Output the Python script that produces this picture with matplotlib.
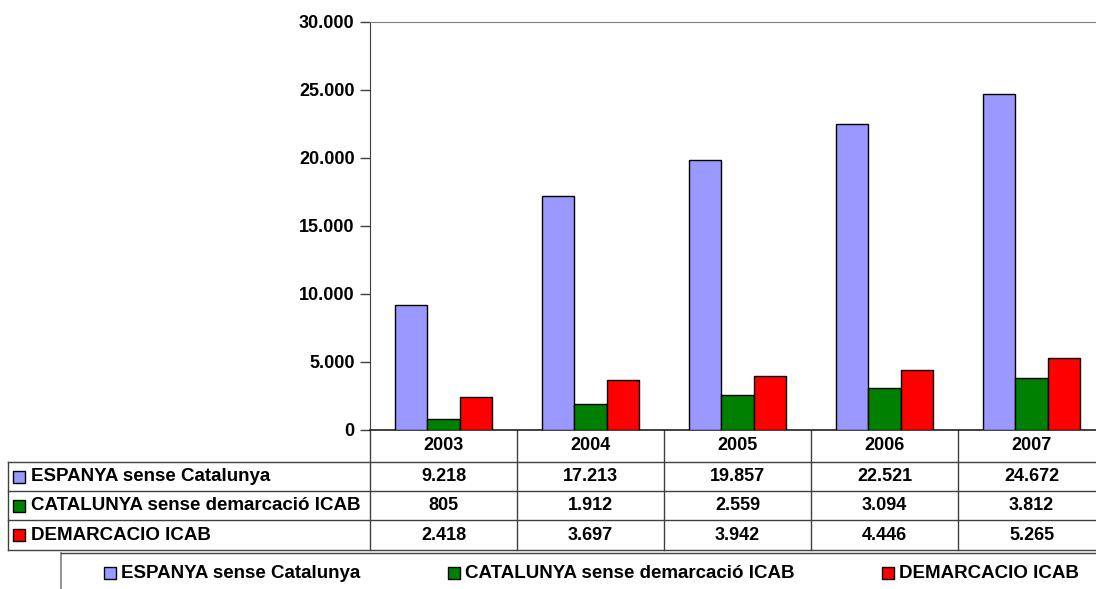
import matplotlib.pyplot as plt
from matplotlib.patches import Rectangle
from matplotlib.transforms import blended_transform_factory
from matplotlib.ticker import FuncFormatter

plt.rcParams['font.family'] = ['Liberation Sans', 'DejaVu Sans']
plt.rcParams['font.size'] = 13
plt.rcParams['font.weight'] = 'bold'

years = ['2003', '2004', '2005', '2006', '2007']
series_names = ['ESPANYA sense Catalunya',
                'CATALUNYA sense demarcació ICAB',
                'DEMARCACIO ICAB']
espanya = [9218, 17213, 19857, 22521, 24672]
catalunya = [805, 1912, 2559, 3094, 3812]
icab = [2418, 3697, 3942, 4446, 5265]
colors = ['#9999FF', '#008000', '#FF0000']
values = [espanya, catalunya, icab]


def fmt(v, pos=None):
    return '{:,.0f}'.format(v).replace(',', '.')


W, H = 1096, 589
fs = 13
fs_lab = 13.5
fig = plt.figure(figsize=(W / 100, H / 100), dpi=100)

# plot area in pixel terms: left 370, zero line at y=430, top at y=22
ax = fig.add_axes([370 / W, (H - 430) / H, 735 / W, 408 / H])
n = len(years)
bw = 0.222
for k, (vals, c) in enumerate(zip(values, colors)):
    xs = [i + (k - 1) * bw for i in range(n)]
    ax.bar(xs, vals, width=bw, color=c, edgecolor='black', linewidth=1, zorder=3)

ax.set_xlim(-0.5, n - 0.5)
ax.set_ylim(0, 30000)
ax.set_yticks(range(0, 30001, 5000))
ax.yaxis.set_major_formatter(FuncFormatter(fmt))
ax.set_xticks([])
ax.tick_params(axis='y', length=7, width=1, color='#404040', labelsize=fs, pad=4)
ax.spines['right'].set_visible(False)
ax.spines['top'].set_color('#808080')
ax.spines['left'].set_color('#404040')
ax.spines['bottom'].set_color('#202020')
ax.spines['bottom'].set_linewidth(1.2)

# overlay in pixel coordinates for the data table and legend
ov = fig.add_axes([0, 0, 1, 1], zorder=-1)
ov.set_xlim(0, W)
ov.set_ylim(H, 0)
ov.axis('off')
ov.patch.set_alpha(0)
tr = blended_transform_factory(ax.transData, ov.transData)

lc = '#404040'
row_y = [430, 462, 491, 520, 550]
# vertical column dividers
for i in range(n + 1):
    ov.plot([i - 0.5, i - 0.5], [430, 550], color=lc, lw=1, transform=tr, clip_on=False)
# horizontal rules
for y in row_y[1:]:
    ov.plot([8, W], [y, y], color=lc, lw=1)
ov.plot([8, 8], [462, 550], color=lc, lw=1)

# year header
for i, yr in enumerate(years):
    ov.text(i, 446, yr, transform=tr, ha='center', va='center', fontsize=fs)

# data rows
for r, (name, vals, c) in enumerate(zip(series_names, values, colors)):
    yc = (row_y[r + 1] + row_y[r + 2]) / 2
    ov.add_patch(Rectangle((13, yc - 6), 12, 12, facecolor=c, edgecolor='black', lw=1))
    ov.text(31, yc, name, ha='left', va='center', fontsize=fs_lab)
    for i, v in enumerate(vals):
        ov.text(i, yc, fmt(v), transform=tr, ha='center', va='center', fontsize=fs)

# legend box (clipped at bottom/right)
ov.plot([61, 61], [553, H + 5], color='#808080', lw=1.2, clip_on=False)
ov.plot([61, W], [553, 553], color=lc, lw=1)
leg_x = [104, 448, 882]
for x0, name, c in zip(leg_x, series_names, colors):
    ov.add_patch(Rectangle((x0, 567), 12, 12, facecolor=c, edgecolor='black', lw=1))
    ov.text(x0 + 17, 573, name, ha='left', va='center', fontsize=fs_lab)

fig.savefig('out.png', dpi=100)
